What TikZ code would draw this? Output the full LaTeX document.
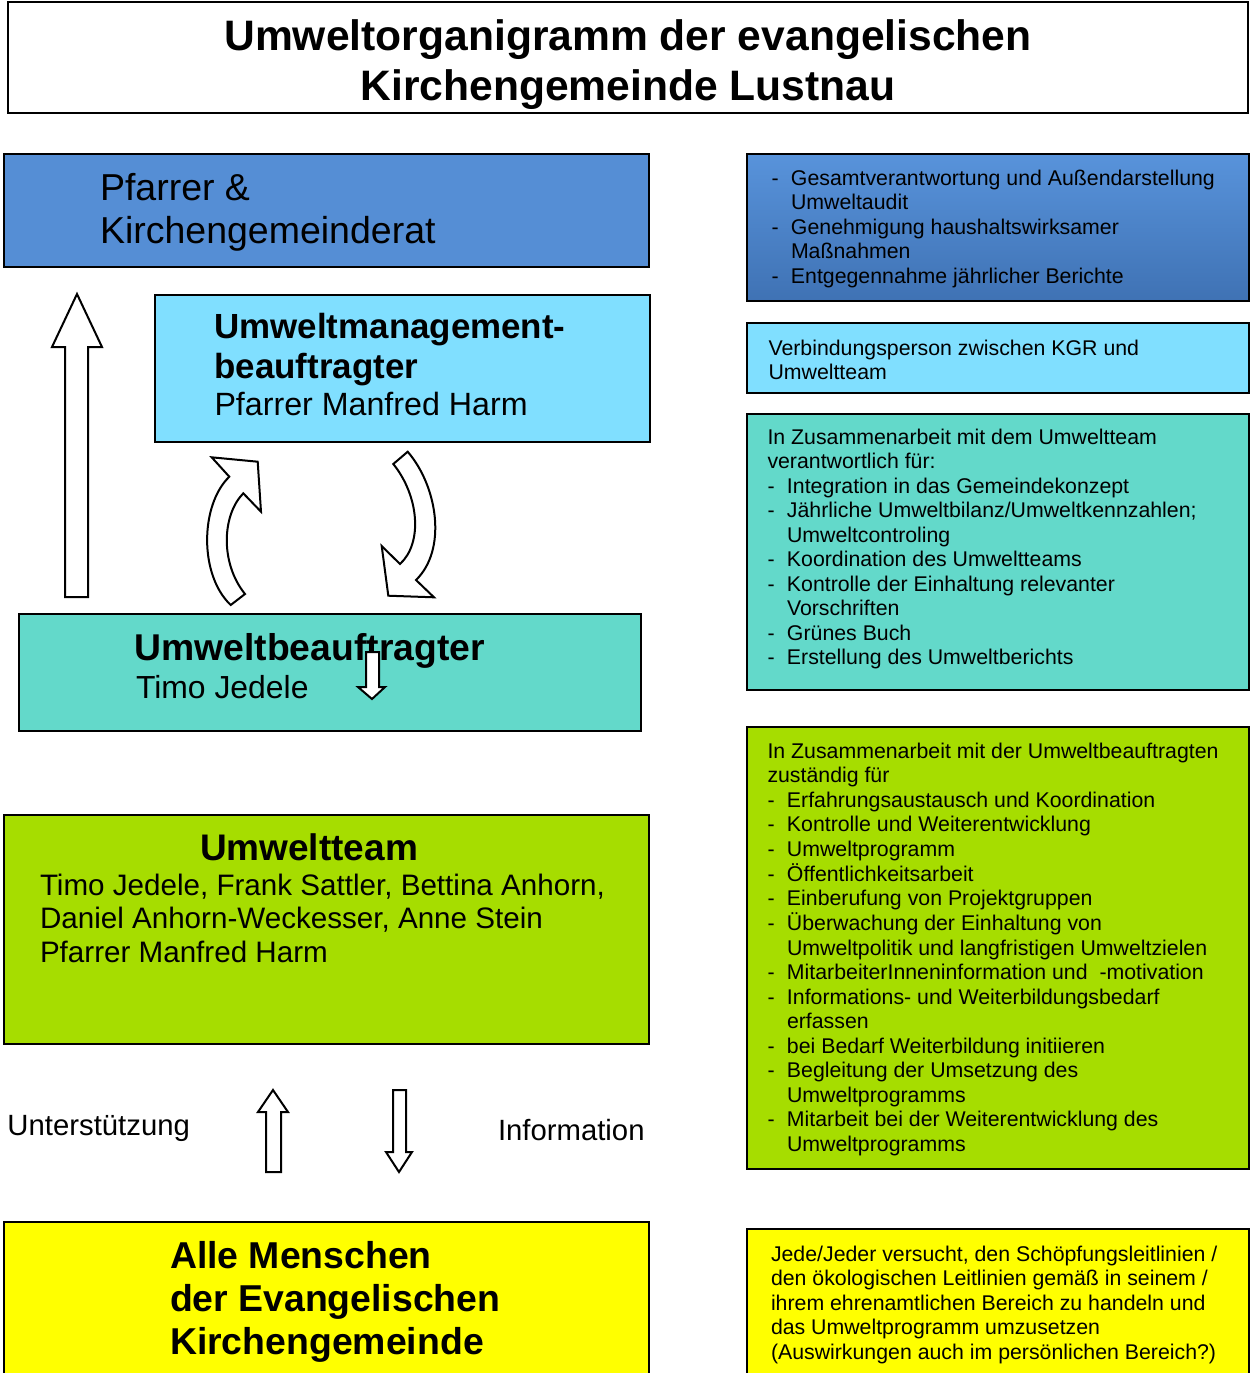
\documentclass[tikz,border=0pt]{standalone}
\usepackage{fontspec}
\setmainfont{Liberation Sans}
\usepackage{array}
\definecolor{pfblue}{HTML}{558ED5}
\definecolor{rbtop}{HTML}{5893DB}
\definecolor{rbbot}{HTML}{3F72B4}
\definecolor{lcyan}{HTML}{80DFFF}
\definecolor{turq}{HTML}{63D9CA}
\definecolor{lgreen}{HTML}{A6DD00}
\definecolor{yel}{HTML}{FFFF00}
\newcommand{\fs}[2]{\fontsize{#1}{#2}\selectfont}
\newcommand{\bdash}{\makebox[9.75pt][l]{-}}
\begin{document}
\begin{tikzpicture}[x=0.5pt,y=-0.5pt,
  box/.style={draw=black, line width=1pt, anchor=north west, inner sep=0pt, outer sep=0pt},
  txt/.style={anchor=base west, inner sep=0pt, outer sep=0pt},
  blockarrow/.style={draw=black, line width=1pt, fill=white, line join=miter}]
\clip (0,0) rectangle (1253,1373);
\useasboundingbox (0,0) rectangle (1253,1373);

% ---------- boxes ----------
\node[box, fill=white, minimum width=620pt, minimum height=55.5pt] (title) at (8,2) {};
\node[box, fill=pfblue, minimum width=322.5pt, minimum height=56.5pt] (pf) at (4,154) {};
\node[box, fill=lcyan, minimum width=247.5pt, minimum height=73.5pt] (umb) at (155,295) {};
\node[box, fill=turq, minimum width=311pt, minimum height=58.5pt] (ub) at (19,614) {};
\node[box, fill=lgreen, minimum width=322.5pt, minimum height=114.5pt] (ut) at (4,815) {};
\node[box, fill=yel, minimum width=322.5pt, minimum height=89pt] (alle) at (4,1222) {};

\node[box, top color=rbtop, bottom color=rbbot, minimum width=251pt, minimum height=73.5pt] (r1) at (747,154) {};
\node[box, fill=lcyan, minimum width=251pt, minimum height=35pt] (r2) at (747,323) {};
\node[box, fill=turq, minimum width=251pt, minimum height=138pt] (r3) at (747,414) {};
\node[box, fill=lgreen, minimum width=251pt, minimum height=221pt] (r4) at (747,727) {};
\node[box, fill=yel, minimum width=251pt, minimum height=85.5pt] (r5) at (747,1229) {};

% ---------- texts ----------
\node[anchor=base, inner sep=0pt] (titletext) at (628,50) {\fs{21.3}{25}\bfseries\begin{tabular}[t]{@{}c@{}}Umweltorganigramm der evangelischen\\Kirchengemeinde Lustnau\end{tabular}};

\node[txt] (pft) at (100,200) {\fs{18.75}{21.5}\begin{tabular}[t]{@{}l@{}}Pfarrer \&\\Kirchengemeinderat\end{tabular}};

\node[txt] (umbt) at (214.5,338) {\fs{17.45}{20}\bfseries\begin{tabular}[t]{@{}l@{}}Umweltmanagement-\\beauftragter\end{tabular}};
\node[txt] (umbn) at (214.5,415) {\fs{16.1}{19}Pfarrer Manfred Harm};

\node[txt] (ubt) at (134.5,660) {\fs{18.65}{21}\bfseries Umweltbeauftragter};
\node[txt] (ubn) at (136,698) {\fs{15.95}{19}Timo Jedele};

\node[anchor=base, inner sep=0pt] (utt) at (309,860) {\fs{18.5}{21}\bfseries Umweltteam};
\node[txt] (utn) at (40,895) {\fs{14.8}{16.75}\begin{tabular}[t]{@{}l@{}}Timo Jedele, Frank Sattler, Bettina Anhorn,\\Daniel Anhorn-Weckesser, Anne Stein\\Pfarrer Manfred Harm\end{tabular}};

\node[txt] (unt) at (7.5,1135) {\fs{14.65}{17}Unterstützung};
\node[txt] (inf) at (498,1140) {\fs{14.65}{17}Information};

\node[txt] (allet) at (170,1268) {\fs{18.7}{21.5}\bfseries\begin{tabular}[t]{@{}l@{}}Alle Menschen\\der Evangelischen\\Kirchengemeinde\end{tabular}};

\node[txt] (r1t) at (771.5,185.5) {\fs{10.65}{12.2}\begin{tabular}[t]{@{}l@{}l@{}}
\bdash & Gesamtverantwortung und Außendarstellung\\
 & Umweltaudit\\
\bdash & Genehmigung haushaltswirksamer\\
 & Maßnahmen\\
\bdash & Entgegennahme jährlicher Berichte
\end{tabular}};

\node[txt] (r2t) at (768.5,355) {\fs{10.65}{12.25}\begin{tabular}[t]{@{}l@{}}Verbindungsperson zwischen KGR und\\Umweltteam\end{tabular}};

\node[txt] (r3t) at (767.5,444) {\fs{10.65}{12.25}\begin{tabular}[t]{@{}l@{}l@{}}
\multicolumn{2}{@{}l@{}}{In Zusammenarbeit mit dem Umweltteam}\\
\multicolumn{2}{@{}l@{}}{verantwortlich für:}\\
\bdash & Integration in das Gemeindekonzept\\
\bdash & Jährliche Umweltbilanz/Umweltkennzahlen;\\
 & Umweltcontroling\\
\bdash & Koordination des Umweltteams\\
\bdash & Kontrolle der Einhaltung relevanter\\
 & Vorschriften\\
\bdash & Grünes Buch\\
\bdash & Erstellung des Umweltberichts
\end{tabular}};

\node[txt] (r4t) at (767.5,758) {\fs{10.65}{12.25}\begin{tabular}[t]{@{}l@{}l@{}}
\multicolumn{2}{@{}l@{}}{In Zusammenarbeit mit der Umweltbeauftragten}\\
\multicolumn{2}{@{}l@{}}{zuständig für}\\
\bdash & Erfahrungsaustausch und Koordination\\
\bdash & Kontrolle und Weiterentwicklung\\
\bdash & Umweltprogramm\\
\bdash & Öffentlichkeitsarbeit\\
\bdash & Einberufung von Projektgruppen\\
\bdash & Überwachung der Einhaltung von\\
 & Umweltpolitik und langfristigen Umweltzielen\\
\bdash & MitarbeiterInneninformation und~~-motivation\\
\bdash & Informations- und Weiterbildungsbedarf\\
 & erfassen\\
\bdash & bei Bedarf Weiterbildung initiieren\\
\bdash & Begleitung der Umsetzung des\\
 & Umweltprogramms\\
\bdash & Mitarbeit bei der Weiterentwicklung des\\
 & Umweltprogramms
\end{tabular}};

\node[txt] (r5t) at (771,1261) {\fs{10.65}{12.3}\begin{tabular}[t]{@{}l@{}}
Jede/Jeder versucht, den Schöpfungsleitlinien /\\
den ökologischen Leitlinien gemäß in seinem /\\
ihrem ehrenamtlichen Bereich zu handeln und\\
das Umweltprogramm umzusetzen\\
(Auswirkungen auch im persönlichen Bereich?)
\end{tabular}};

% ---------- block arrows ----------
\draw[blockarrow] (65,597) -- (65,347) -- (52,347) -- (77,294) -- (102,347) -- (88,347) -- (88,597) -- cycle;

\draw[blockarrow] (230.7,605) .. controls (199,575) and (200,505) .. (229.3,476.7)
  -- (211.7,457.3) -- (257.7,461.7) -- (261,511.7) -- (243.3,493.3)
  .. controls (222,515) and (220,563) .. (245,594) -- cycle;

\draw[blockarrow] (407.7,451.7) .. controls (438,487) and (447,550) .. (416,580)
  -- (434,597.3) -- (388.3,595.7) -- (381.7,546) -- (400,564)
  .. controls (423,543) and (419,496) .. (393.3,464) -- cycle;

\draw[blockarrow] (366,652) -- (379,652) -- (379,687) -- (385,687) -- (372,699) -- (358,687) -- (366,687) -- cycle;

\draw[blockarrow] (266,1172) -- (266,1112) -- (258,1112) -- (273,1090) -- (288,1112) -- (281,1112) -- (281,1172) -- cycle;

\draw[blockarrow] (393,1090) -- (406,1090) -- (406,1152) -- (412,1152) -- (399,1172) -- (386,1152) -- (393,1152) -- cycle;
\end{tikzpicture}
\end{document}
